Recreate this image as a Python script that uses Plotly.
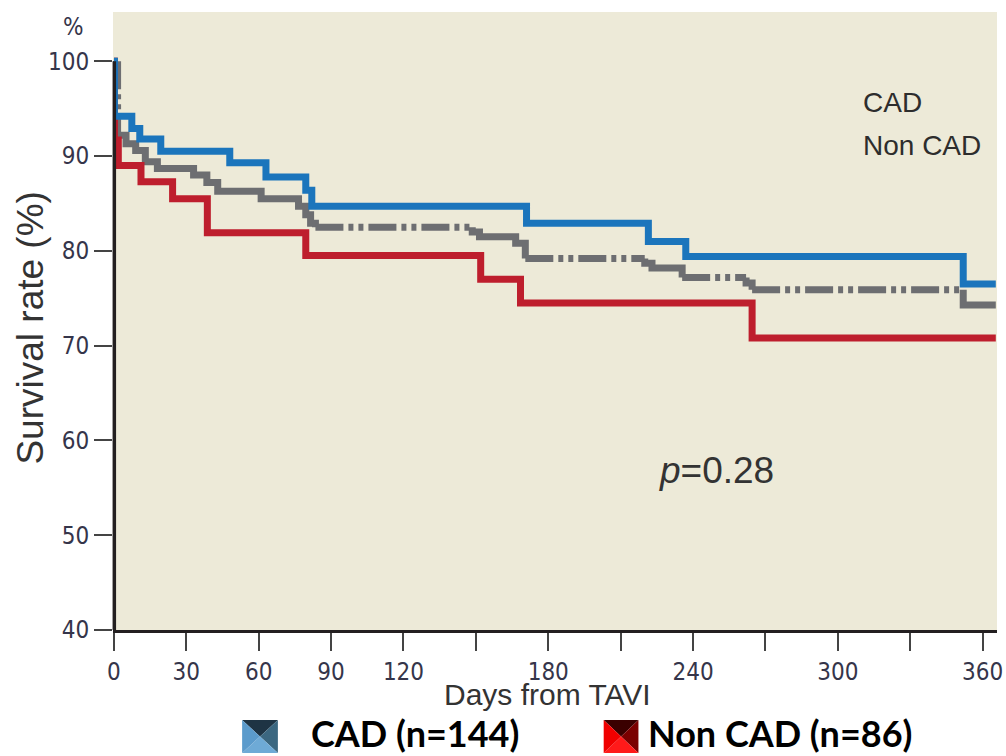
import plotly.graph_objects as go

# ---------------- data ----------------
cad_days = [0, 0.2, 7.4, 10.7, 19.4, 48, 63, 79.5, 82, 171, 221.5, 237, 352]
cad_surv = [100, 94.2, 92.9, 91.8, 90.5, 89.3, 87.8, 86.4, 84.7, 82.9, 81.0, 79.4, 76.5]

noncad_days = [0, 0.2, 1.8, 11.2, 24.3, 38.7, 79.5, 152, 168.5, 264.5]
noncad_surv = [100, 91.7, 89.0, 87.3, 85.5, 81.9, 79.5, 77.0, 74.5, 70.8]

all_days = [0, 1.5, 5, 9, 13, 18, 33, 38.5, 43, 61, 76.5, 79.5, 81.5, 83.5, 148.5,
            151.5, 166.5, 170.5, 220, 223, 235.5, 262, 264.5, 352]
all_surv = [100, 92.2, 91.3, 90.6, 89.4, 88.7, 88.0, 87.2, 86.3, 85.5, 84.7, 83.8,
            82.9, 82.5, 82.0, 81.5, 80.8, 79.2, 78.7, 78.2, 77.2, 76.6, 75.9, 74.3]

end_day = 365.5

x_tickvals = [0, 30, 60, 90, 120, 150, 180, 210, 240, 270, 300, 330, 360]
x_ticktext = ["0", "30", "60", "90", "120", "", "180", "", "240", "", "300", "", "360"]
y_tickvals = [40, 50, 60, 70, 80, 90, 100]

legend_labels = ["CAD (n=144)", "Non CAD (n=86)"]

# ---------------- styles ----------------
BLUE = "#1b75bc"
RED = "#be1e2d"
GRAY = "#6d6e71"
AXIS = "#231f20"
BG = "#edead8"
TICKFONT = dict(family="Liberation Sans Narrow, DejaVu Sans Condensed, sans-serif",
                size=24, color="#35354a")
GRAY_DASH = "28px,5px,5px,5px,5px,5px"

W, H = 1006, 756
ML, MR, MT, MB = 113, 3, 12, 126
PW, PH = W - ML - MR, H - MT - MB


def px(xp):
    return (xp - ML) / PW


def py(yp):
    return (H - MB - yp) / PH


def extend(d, v):
    return list(d) + [end_day], list(v) + [v[-1]]


fig = go.Figure()

# gray (all patients) curve: long flat runs / big drops drawn dash-dot-dot,
# dense step parts drawn solid (as in the printed figure)
solid_x, solid_y, dash_x, dash_y = [], [], [], []
n = len(all_days)
for i in range(n):
    d0 = all_days[i]
    d1 = all_days[i + 1] if i + 1 < n else end_day
    v0 = all_surv[i]
    if d1 - d0 >= 25:
        dash_x += [d0, d1, None]
        dash_y += [v0, v0, None]
        solid_x += [None, d1]
        solid_y += [None, v0]
    else:
        solid_x += [d0, d1]
        solid_y += [v0, v0]
    if i + 1 < n:
        v1 = all_surv[i + 1]
        if v0 - v1 > 5:
            dash_x += [d1, d1, None]
            dash_y += [v0, v1, None]
            solid_x += [None, d1]
            solid_y += [None, v1]
        else:
            solid_x += [d1]
            solid_y += [v1]

fig.add_trace(go.Scatter(x=solid_x, y=solid_y, mode="lines", connectgaps=False,
                         line=dict(color=GRAY, width=7),
                         showlegend=False, hoverinfo="skip"))
fig.add_trace(go.Scatter(x=dash_x, y=dash_y, mode="lines", connectgaps=False,
                         line=dict(color=GRAY, width=7, dash=GRAY_DASH),
                         showlegend=False, hoverinfo="skip"))
rx, ry = extend(noncad_days, noncad_surv)
fig.add_trace(go.Scatter(x=rx, y=ry, mode="lines", line_shape="hv",
                         line=dict(color=RED, width=7),
                         showlegend=False, hoverinfo="skip"))
bx, by = extend(cad_days, cad_surv)
fig.add_trace(go.Scatter(x=bx, y=by, mode="lines", line_shape="hv",
                         line=dict(color=BLUE, width=7),
                         showlegend=False, hoverinfo="skip"))

fig.update_layout(
    width=W, height=H,
    margin=dict(l=ML, r=MR, t=MT, b=MB, pad=0),
    paper_bgcolor="white", plot_bgcolor=BG,
    showlegend=False,
    xaxis=dict(range=[-0.4, 366], tickvals=x_tickvals, ticktext=x_ticktext,
               ticks="outside", ticklen=18, tickwidth=2, tickcolor="#444",
               showline=True, linecolor=AXIS, linewidth=2.5,
               showgrid=False, zeroline=False, tickfont=TICKFONT,
               ticklabeloverflow="allow"),
    yaxis=dict(range=[40, 105.2], tickvals=y_tickvals,
               ticks="outside", ticklen=18, tickwidth=2, tickcolor="#444",
               showline=False, showgrid=False, zeroline=False,
               tickfont=TICKFONT),
)

# y axis line only from 40 to 100
fig.add_shape(type="line", xref="paper", yref="y", x0=0.0015, x1=0.0015,
              y0=40, y1=100, line=dict(color=AXIS, width=3.5), layer="above")

SANS = "Liberation Sans, Arial, sans-serif"
ann = []
ann.append(dict(text="%", x=px(73), y=py(27), xref="paper", yref="paper",
                showarrow=False, font=TICKFONT, xanchor="center", yanchor="middle"))
ann.append(dict(text="Survival rate (%)", x=px(30), y=py(328), xref="paper", yref="paper",
                showarrow=False, textangle=-90,
                font=dict(family=SANS, size=37, color="#333"),
                xanchor="center", yanchor="middle"))
ann.append(dict(text="Days from TAVI", x=px(550), y=py(694), xref="paper", yref="paper",
                showarrow=False,
                font=dict(family=SANS, size=30, color="#333"),
                xanchor="center", yanchor="middle"))
ann.append(dict(text="CAD", x=px(866), y=py(102), xref="paper", yref="paper",
                showarrow=False,
                font=dict(family=SANS, size=28, color="#2d2d2d"),
                xanchor="left", yanchor="middle"))
ann.append(dict(text="Non CAD", x=px(866), y=py(145), xref="paper", yref="paper",
                showarrow=False,
                font=dict(family=SANS, size=28, color="#2d2d2d"),
                xanchor="left", yanchor="middle"))
ann.append(dict(text="<i>p</i>=0.28", x=px(721), y=py(470), xref="paper", yref="paper",
                showarrow=False,
                font=dict(family=SANS, size=37, color="#333"),
                xanchor="center", yanchor="middle"))
# bottom legend text
LEGFONT = dict(family="Lato, Open Sans, sans-serif", size=36, color="black")
ann.append(dict(text="<b>%s</b>" % legend_labels[0], x=px(310), y=py(733), xref="paper",
                yref="paper", showarrow=False, font=LEGFONT,
                xanchor="left", yanchor="middle"))
ann.append(dict(text="<b>%s</b>" % legend_labels[1], x=px(650), y=py(733), xref="paper",
                yref="paper", showarrow=False, font=LEGFONT,
                xanchor="left", yanchor="middle"))
fig.update_layout(annotations=ann)


def icon(x0p, y0p, x1p, y1p, cols):
    # cols: top, right, bottom, left triangles meeting at the centre
    x0, x1 = px(x0p), px(x1p)
    y0, y1 = py(y1p), py(y0p)  # y0 bottom, y1 top
    cx, cy = (x0 + x1) / 2, (y0 + y1) / 2
    tris = [
        [(x0, y1), (x1, y1), (cx, cy)],
        [(x1, y1), (x1, y0), (cx, cy)],
        [(x1, y0), (x0, y0), (cx, cy)],
        [(x0, y0), (x0, y1), (cx, cy)],
    ]
    for t, c in zip(tris, cols):
        path = "M %f %f L %f %f L %f %f Z" % (t[0][0], t[0][1], t[1][0], t[1][1], t[2][0], t[2][1])
        fig.add_shape(type="path", path=path, xref="paper", yref="paper",
                      fillcolor=c, line=dict(width=0), layer="above")


icon(243, 720, 279, 753, ["#1e3444", "#3b6780", "#6eaad6", "#5b9bcc"])
icon(607, 720, 642, 753, ["#3a0000", "#7a0000", "#ff1a1a", "#f00000"])

fig.write_html("out.html")
